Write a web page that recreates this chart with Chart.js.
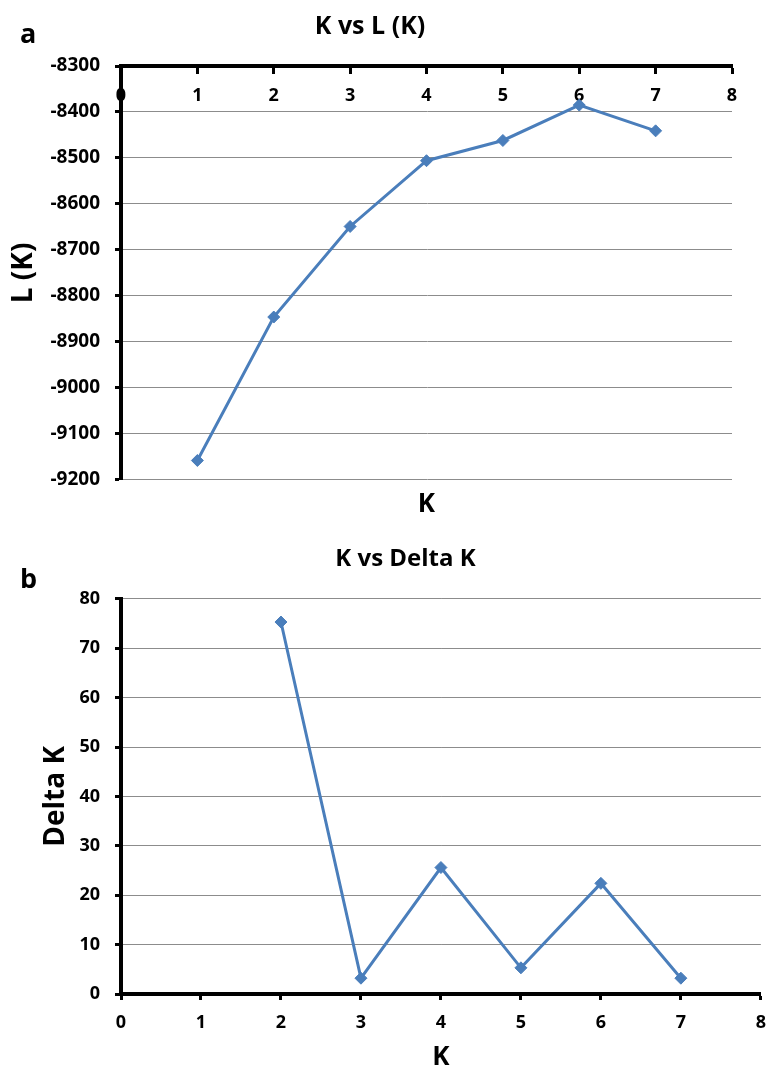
<!DOCTYPE html>
<html>
<head>
<meta charset="utf-8">
<script src="https://cdn.jsdelivr.net/npm/chart.js@4.4.1/dist/chart.umd.min.js"></script>
<style>
  body { margin: 0; background: #fff; }
  .panel { position: relative; width: 778px; }
  .panel canvas { display: block; }
  .tag { position: absolute; left: 20px; font: bold 27px "Open Sans"; line-height: 27px; color: #000; }
</style>
</head>
<body>
<div class="panel">
  <span class="tag" style="top:19px">a</span>
  <canvas id="lk" width="778" height="540"></canvas>
</div>
<div class="panel">
  <span class="tag" style="top:24px">b</span>
  <canvas id="dk" width="778" height="532"></canvas>
</div>
<script>
"use strict";

// data
const kTop = [1, 2, 3, 4, 5, 6, 7];
const lValues = [-9158, -8846, -8649, -8506, -8462, -8385, -8441];
const kBottom = [2, 3, 4, 5, 6, 7];
const deltaValues = [75.3, 3.2, 25.6, 5.3, 22.4, 3.2];
const topTitle = "K vs L (K)";
const bottomTitle = "K vs Delta K";

const blue = "#4a7ebb";
const gridGray = "#8c8c8c";

Chart.defaults.font.family = "'Open Sans', sans-serif";
Chart.defaults.font.weight = "bold";
Chart.defaults.color = "#000";

function points(xs, ys) {
  return xs.map((x, i) => ({ x: x, y: ys[i] }));
}

const lineDataset = (xs, ys) => ({
  data: points(xs, ys),
  borderColor: blue,
  backgroundColor: blue,
  borderWidth: 3,
  pointStyle: "rectRot",
  pointRadius: 6,
  pointBorderWidth: 1,
  tension: 0,
});

//chart a
new Chart(document.getElementById("lk"), {
  type: "line",
  data: { datasets: [lineDataset(kTop, lValues)] },
  options: {
    responsive: false,
    animation: false,
    layout: { padding: { left: 8, right: 46, top: 0, bottom: 0 } },
    plugins: {
      legend: { display: false },
      tooltip: { enabled: false },
      title: {
        display: true,
        text: topTitle,
        font: { size: 25 },
        padding: { top: 12, bottom: 24 },
      },
      subtitle: {
        display: true,
        text: "K",
        position: "bottom",
        fullSize: false,
        font: { size: 26, weight: "bold" },
        padding: { top: 9, bottom: 20 },
      },
    },
    scales: {
      x: {
        type: "linear",
        position: { y: -8300 },
        min: 0,
        max: 8,
        ticks: { stepSize: 1, font: { size: 18 }, padding: 13 },
        grid: { drawOnChartArea: false, tickLength: 6, tickColor: "#000", tickWidth: 3 },
        border: { color: "#000", width: 4 },
      },
      y: {
        min: -9200,
        max: -8300,
        ticks: { stepSize: 100, font: { size: 19 }, padding: 15, callback: (v) => String(v) },
        grid: { color: gridGray, lineWidth: 1, tickLength: 6, tickColor: "#000", tickWidth: 3 },
        border: { color: "#000", width: 4 },
        title: { display: true, text: "L (K)", font: { size: 28 }, padding: { top: -1, bottom: 0 } },
        afterFit: (scale) => { scale.width = 113; },
      },
    },
  },
});

//chart b
new Chart(document.getElementById("dk"), {
  type: "line",
  data: { datasets: [lineDataset(kBottom, deltaValues)] },
  options: {
    responsive: false,
    animation: false,
    layout: { padding: { left: 40, right: 7, top: 0, bottom: 0 } },
    plugins: {
      legend: { display: false },
      tooltip: { enabled: false },
      title: {
        display: true,
        text: bottomTitle,
        font: { size: 24 },
        padding: { top: 5, bottom: 25 },
      },
    },
    scales: {
      x: {
        type: "linear",
        position: "bottom",
        min: 0,
        max: 8,
        ticks: { stepSize: 1, font: { size: 18 }, padding: 12 },
        grid: { drawOnChartArea: false, tickLength: 6, tickColor: "#000", tickWidth: 3 },
        border: { color: "#000", width: 4 },
        title: { display: true, text: "K", font: { size: 26 }, padding: { top: 0, bottom: -1 } },
        afterFit: (scale) => { scale.height = 78; },
      },
      y: {
        min: 0,
        max: 80,
        ticks: { stepSize: 10, font: { size: 18 }, padding: 15 },
        grid: { color: gridGray, lineWidth: 1, tickLength: 6, tickColor: "#000", tickWidth: 3 },
        border: { color: "#000", width: 4 },
        title: { display: true, text: "Delta K", font: { size: 28 }, padding: { top: -1, bottom: 0 } },
        afterFit: (scale) => { scale.width = 81; },
      },
    },
  },
});
</script>
</body>
</html>
